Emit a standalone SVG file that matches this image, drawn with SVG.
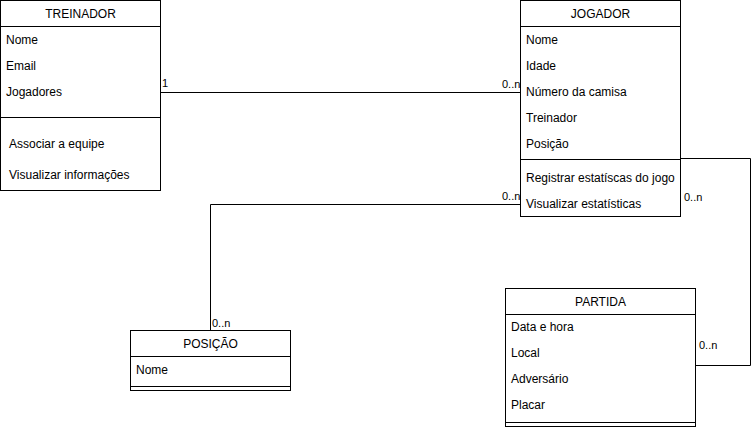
<svg xmlns="http://www.w3.org/2000/svg" width="752" height="427" viewBox="0 0 752 427">
<style>
text{font-family:"Liberation Sans",Arial,sans-serif;font-size:12px;fill:#000}
.h{text-anchor:middle}
.b{fill:#fff;stroke:#000;stroke-width:1}
.l{stroke:#000;stroke-width:1;fill:none}
.c{fill:none;stroke:#000;stroke-width:1}
.lb{font-size:11px}
</style>
<rect width="752" height="427" fill="#fff"/>
<g id="connectors">
<path class="c" d="M160.5 92.5H520.5"/>
<path class="c" d="M520.5 204.5H210.5V330.5"/>
<path class="c" d="M680.5 158.5H750.5V365.5H695.5"/>
<text class="lb" x="162" y="87">1</text>
<text class="lb" x="502" y="88">0..n</text>
<text class="lb" x="502" y="200">0..n</text>
<text class="lb" x="212" y="327">0..n</text>
<text class="lb" x="684" y="201">0..n</text>
<text class="lb" x="699" y="349">0..n</text>
</g>
<g id="treinador">
<rect class="b" x="0.5" y="0.5" width="160" height="190"/>
<path class="l" d="M0.5 26.5H160.5M0.5 117.5H160.5"/>
<text class="h" x="80.5" y="18">TREINADOR</text>
<text x="6" y="44">Nome</text>
<text x="6" y="70">Email</text>
<text x="6" y="96">Jogadores</text>
<text x="9" y="148">Associar a equipe</text>
<text x="9" y="179">Visualizar informações</text>
</g>
<g id="jogador">
<rect class="b" x="520.5" y="0.5" width="160" height="216"/>
<path class="l" d="M520.5 26.5H680.5M520.5 159.5H680.5"/>
<text class="h" x="600.5" y="18">JOGADOR</text>
<text x="526" y="44">Nome</text>
<text x="526" y="70">Idade</text>
<text x="526" y="96">Número da camisa</text>
<text x="526" y="122">Treinador</text>
<text x="526" y="148">Posição</text>
<text x="526" y="182">Registrar estatíscas do jogo</text>
<text x="526" y="208">Visualizar estatísticas</text>
</g>
<g id="posicao">
<rect class="b" x="130.5" y="330.5" width="160" height="60"/>
<path class="l" d="M130.5 356.5H290.5M130.5 386.5H290.5"/>
<text class="h" x="210.5" y="348">POSIÇÃO</text>
<text x="136" y="374">Nome</text>
</g>
<g id="partida">
<rect class="b" x="505.5" y="288.5" width="190" height="138"/>
<path class="l" d="M505.5 314.5H695.5M505.5 422.5H695.5"/>
<text class="h" x="600.5" y="306">PARTIDA</text>
<text x="511" y="331">Data e hora</text>
<text x="511" y="357">Local</text>
<text x="511" y="383">Adversário</text>
<text x="511" y="409">Placar</text>
</g>
</svg>
